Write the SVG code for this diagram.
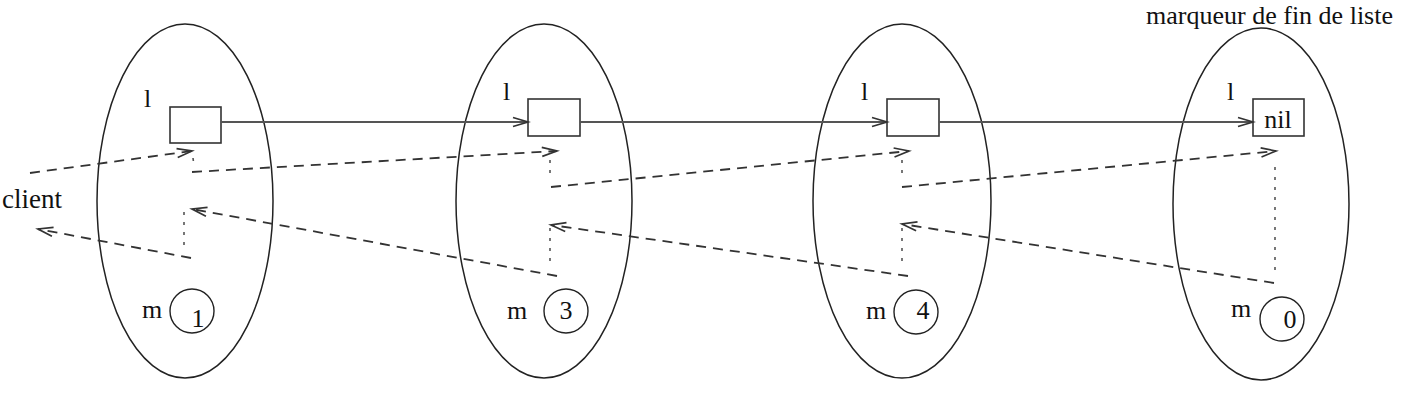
<svg xmlns="http://www.w3.org/2000/svg" width="1404" height="411" viewBox="0 0 1404 411">
<style>
text{font-family:"Liberation Serif","Times New Roman",serif;font-size:26px;fill:#111}
.ell{fill:none;stroke:#222;stroke-width:1.5}
.box{fill:#fff;stroke:#333;stroke-width:1.6}
.cir{fill:none;stroke:#222;stroke-width:1.4}
.solid{fill:none;stroke:#555;stroke-width:1.8}
.dash{fill:none;stroke:#333;stroke-width:1.8;stroke-dasharray:10,7}
.dot{fill:none;stroke:#555;stroke-width:1.6;stroke-dasharray:3,7}
</style>
<defs>
<marker id="ah" markerUnits="userSpaceOnUse" markerWidth="20" markerHeight="12" refX="16" refY="6" orient="auto" overflow="visible">
<path d="M1,1.5 L16,6 L1,10.5" fill="none" stroke="#333" stroke-width="1.7" stroke-dasharray="none"/>
</marker>
</defs>
<text x="1393" y="24" text-anchor="end">marqueur de fin de liste</text>
<text x="2" y="208" style="font-size:27px">client</text>
<g id="node1">
<ellipse class="ell" cx="185" cy="201" rx="88" ry="177"/>
<text x="144" y="107">l</text>
<rect class="box" x="170" y="107" width="51" height="36"/>
<text x="142" y="318">m</text>
<circle class="cir" cx="192" cy="311" r="22"/>
<text x="198" y="327" text-anchor="middle">1</text>
</g>
<g id="node2">
<ellipse class="ell" cx="544" cy="201" rx="88" ry="177"/>
<text x="503" y="100">l</text>
<rect class="box" x="528" y="99" width="52" height="37"/>
<text x="507" y="319">m</text>
<circle class="cir" cx="566" cy="311" r="22"/>
<text x="566" y="319" text-anchor="middle">3</text>
</g>
<g id="node3">
<ellipse class="ell" cx="902" cy="201" rx="89" ry="177"/>
<text x="861" y="100">l</text>
<rect class="box" x="887" y="99" width="52" height="37"/>
<text x="866" y="319">m</text>
<circle class="cir" cx="916" cy="312" r="22"/>
<text x="923" y="319" text-anchor="middle">4</text>
</g>
<g id="node4">
<ellipse class="ell" cx="1261" cy="204" rx="88" ry="176"/>
<text x="1227" y="100">l</text>
<rect class="box" x="1253" y="99" width="51" height="37"/>
<text x="1278" y="128" text-anchor="middle">nil</text>
<text x="1231" y="317">m</text>
<circle class="cir" cx="1282" cy="319" r="22"/>
<text x="1290" y="328" text-anchor="middle">0</text>
</g>
<g id="connectors">
<line class="solid" x1="221" y1="122" x2="528" y2="122" marker-end="url(#ah)"/>
<line class="solid" x1="580" y1="122" x2="887" y2="122" marker-end="url(#ah)"/>
<line class="solid" x1="939" y1="122" x2="1253" y2="122" marker-end="url(#ah)"/>
<line class="dash" x1="30" y1="173" x2="192" y2="151" marker-end="url(#ah)"/>
<line class="dash" x1="192" y1="172" x2="557" y2="151" marker-end="url(#ah)"/>
<line class="dash" x1="551" y1="187" x2="909" y2="151" marker-end="url(#ah)"/>
<line class="dash" x1="902" y1="187" x2="1276" y2="151" marker-end="url(#ah)"/>
<line class="dash" x1="1274" y1="283" x2="902" y2="224" marker-end="url(#ah)"/>
<line class="dash" x1="908" y1="276" x2="551" y2="225" marker-end="url(#ah)"/>
<line class="dash" x1="557" y1="276" x2="192" y2="209" marker-end="url(#ah)"/>
<line class="dash" x1="191" y1="258" x2="38" y2="229" marker-end="url(#ah)"/>
<line class="dot" x1="193" y1="158" x2="194" y2="166"/>
<line class="dot" x1="550" y1="160" x2="550" y2="180"/>
<line class="dot" x1="902" y1="160" x2="902" y2="180"/>
<line class="dot" x1="1275" y1="167" x2="1275" y2="275"/>
<line class="dot" x1="902" y1="228" x2="902" y2="262"/>
<line class="dot" x1="550" y1="228" x2="550" y2="262"/>
<line class="dot" x1="184" y1="212" x2="184" y2="250"/>
</g>
</svg>
